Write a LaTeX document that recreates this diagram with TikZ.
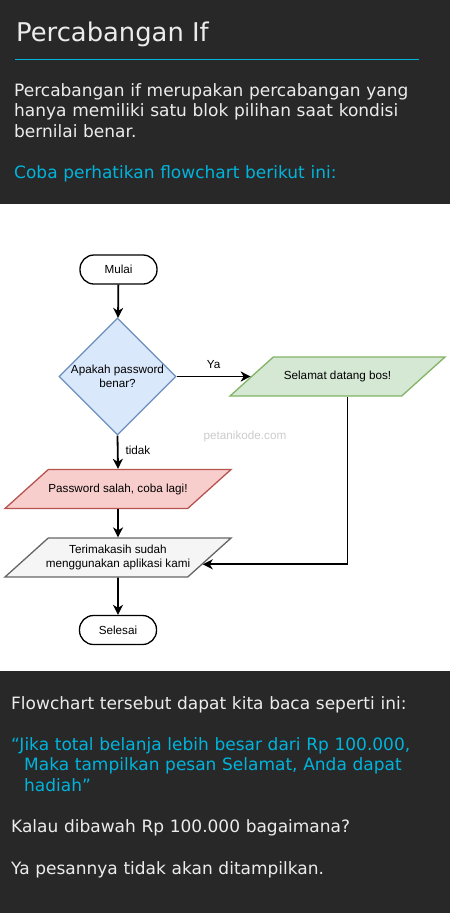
\documentclass[tikz,border=0pt]{standalone}
\usepackage{fontspec}
\setmainfont{DejaVu Sans}
\newfontfamily\chartfont{Liberation Sans}
\usetikzlibrary{shapes.geometric,arrows.meta,calc}
\definecolor{panel}{RGB}{40,40,40}
\definecolor{teks}{RGB}{236,236,236}
\definecolor{sian}{RGB}{0,180,220}
\definecolor{birufill}{HTML}{DAE8FC}
\definecolor{birutepi}{HTML}{6C8EBF}
\definecolor{hijaufill}{HTML}{D5E8D4}
\definecolor{hijautepi}{HTML}{82B366}
\definecolor{merahfill}{HTML}{F8CECC}
\definecolor{merahtepi}{HTML}{B85450}
\definecolor{abufill}{HTML}{F5F5F5}
\definecolor{abutepi}{HTML}{666666}

\begin{document}
\begin{tikzpicture}[x=1pt,y=-1pt]
	\tikzset{
		judul/.style={anchor=base west,inner sep=0pt,text=teks,font=\fontsize{25.8}{30}\selectfont},
		isi/.style={anchor=base west,inner sep=0pt,text=teks,align=left,text width=430pt,font=\fontsize{17}{20.5}\selectfont},
		chart/.style={font=\chartfont\fontsize{11.7}{14}\selectfont},
		terminal/.style={chart,draw,line width=1.3pt,rounded corners=14pt,minimum width=77pt,minimum height=29pt,inner sep=0pt},
		keputusan/.style={chart,diamond,aspect=1,draw=birutepi,fill=birufill,line width=1.3pt,minimum width=117pt,minimum height=117pt,inner sep=0pt,align=center},
		io/.style={chart,trapezium,trapezium left angle=42,trapezium right angle=138,trapezium stretches body=true,line width=1.3pt,inner xsep=0pt,align=center},
		satu/.style={text height=8.5pt,text depth=2.5pt,inner ysep=14pt},
		dua/.style={inner ysep=7pt,inner xsep=-12pt},
		label/.style={chart,inner sep=0pt},
		arr/.style={line width=1.8pt,-{Stealth[length=10pt,width=10pt,inset=3pt]}}}
	\useasboundingbox(0,0) rectangle (450,913);
	\fill[panel](0,0) rectangle (450,204);
	\fill[white](0,204) rectangle (450,671);
	\fill[panel](0,671) rectangle (450,913);
	\node[judul](title) at (16,41){Percabangan If};
	\draw[sian,line width=0.8pt](15,59.5)--(419,59.5);
	\node[isi](intro) at (14,96){Percabangan if merupakan percabangan yang\\hanya memiliki satu blok pilihan saat kondisi\\bernilai benar.};
	\node[isi,text=sian](ajak) at (14,178){Coba perhatikan flowchart berikut ini:};
	\node[terminal](mulai) at (118.5,269.5){Mulai};
	\node[keputusan](cek) at (117.5,376.5){Apakah password\\benar?};
	\node[io,satu,draw=hijautepi,fill=hijaufill,minimum width=215pt](benar) at (337.5,376.5){Selamat datang bos!};
	\node[io,satu,draw=merahtepi,fill=merahfill,minimum width=226pt](salah) at (118,489){Password salah, coba lagi!};
	\node[io,dua,draw=abutepi,fill=abufill,minimum width=226pt](terima) at (118,557.5){Terimakasih sudah\\menggunakan aplikasi kami};
	\node[terminal](selesai) at (118,630){Selesai};
	\node[label,text=black!20](wm) at (245,436){petanikode.com};
	\coordinate(turun) at ($(benar.bottom left corner)!0.686!(benar.bottom right corner)$);
	\draw[arr](mulai)--(cek);
	\draw[arr](cek.east)--(benar) node[label,midway,above=7pt]{Ya};
	\draw[arr](cek.south)--(salah.north) node[label,pos=0.45,right=7pt]{tidak};
	\draw[arr](salah.south)--(terima.north);
	\draw[arr](turun)|-($(terima.top right corner)!0.67!(terima.bottom right corner)$);
	\draw[arr](terima.south)--(selesai.north);
	\node[isi](baca) at (11,709){Flowchart tersebut dapat kita baca seperti ini:};
	\node[isi,text=sian](kutip) at (11,750){“Jika total belanja lebih besar dari Rp 100.000,\\\hspace*{13pt}Maka tampilkan pesan Selamat, Anda dapat\\\hspace*{13pt}hadiah”};
	\node[isi](tanya) at (11,832.5){Kalau dibawah Rp 100.000 bagaimana?};
	\node[isi](jawab) at (11,874){Ya pesannya tidak akan ditampilkan.};
\end{tikzpicture}
\end{document}
